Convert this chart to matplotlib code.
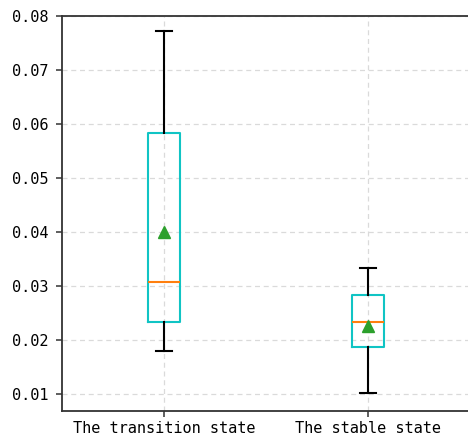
import matplotlib
matplotlib.use("Agg")
import matplotlib.pyplot as plt

# box statistics for the two states
labels = ["The transition state", "The stable state"]
whislo = [0.0180, 0.0102]
q1 = [0.0234, 0.0187]
med = [0.0308, 0.0234]
q3 = [0.0583, 0.0284]
whishi = [0.0773, 0.0334]
means = [0.0400, 0.0226]

stats = []
for i in range(len(labels)):
    stats.append(dict(label=labels[i], whislo=whislo[i], q1=q1[i], med=med[i],
                      q3=q3[i], whishi=whishi[i], mean=means[i], fliers=[]))

plt.rcParams['font.family'] = ['DejaVu Sans Mono']
plt.rcParams['font.size'] = 11

fig = plt.figure(figsize=(4.68, 4.38), dpi=100)
ax = fig.add_axes([0.1325, 0.0616, 0.885, 0.902])

ax.bxp(stats, widths=0.157, showmeans=True, patch_artist=False,
       boxprops=dict(color='#10c4c4', linewidth=1.5),
       medianprops=dict(color='#ff7f0e', linewidth=1.5),
       whiskerprops=dict(color='black', linewidth=1.5),
       capprops=dict(color='black', linewidth=1.5),
       meanprops=dict(marker='^', markerfacecolor='#2ca02c',
                      markeredgecolor='#2ca02c', markersize=8))

ax.set_ylim(0.00684, 0.08)
ax.set_xlim(0.5, 2.53)
ax.set_yticks([0.01, 0.02, 0.03, 0.04, 0.05, 0.06, 0.07, 0.08])
ax.grid(True, linestyle=(0, (4, 3)), color='#dadada', linewidth=0.9)
ax.set_axisbelow(True)
for s in ax.spines.values():
    s.set_linewidth(1.3)
    s.set_color('#333333')
ax.tick_params(length=4, width=1.1, color='#333333')
ax.tick_params(axis='y', pad=6)

fig.savefig("out.png", dpi=100)
